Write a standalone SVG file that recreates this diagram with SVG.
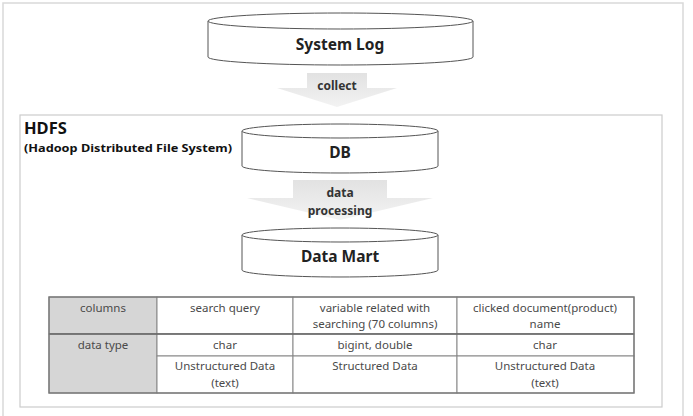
<svg xmlns="http://www.w3.org/2000/svg" width="693" height="416" viewBox="0 0 693 416">
  <style>
    .frame { fill: #ffffff; stroke: #d9d9d9; stroke-width: 1.5; }
    .hdfs { fill: #ffffff; stroke: #cccccc; stroke-width: 1.2; }
    .cyl { fill: #ffffff; stroke: #555555; stroke-width: 1; }
    .cyl-label { font-family: "Noto Sans", "Liberation Sans", sans-serif; font-weight: bold; font-size: 15.5px; fill: #222222; text-anchor: middle; }
    .arrow-label { font-family: "Noto Sans", "Liberation Sans", sans-serif; font-weight: bold; font-size: 12px; fill: #333333; text-anchor: middle; }
    .title { font-family: "Noto Sans", "Liberation Sans", sans-serif; font-weight: bold; fill: #111111; }
    .cell { stroke: #888888; stroke-width: 1; }
    .cell-text { font-family: "Noto Sans", "Liberation Sans", sans-serif; font-size: 11.5px; fill: #4a4a4a; text-anchor: middle; }
  </style>
  <defs>
    <linearGradient id="arrowFill" x1="0" y1="0" x2="0" y2="1">
      <stop offset="0" stop-color="#e2e2e2"/>
      <stop offset="1" stop-color="#f3f3f3"/>
    </linearGradient>
  </defs>

  <!-- outer frame -->
  <rect class="frame" x="3" y="3" width="680" height="416"/>

  <!-- HDFS container -->
  <g id="hdfs">
    <rect class="hdfs" x="20" y="115" width="642" height="292"/>
    <text class="title" x="24" y="134" font-size="16.5">HDFS</text>
    <text class="title" x="24" y="152" font-size="10.5" textLength="208" lengthAdjust="spacingAndGlyphs">(Hadoop Distributed File System)</text>
  </g>

  <!-- connectors: block arrows -->
  <g id="connectors">
    <g id="collect">
      <path d="M307,73 H367 V88 H397 L337,107 L277,88 H307 Z" fill="url(#arrowFill)"/>
      <text class="arrow-label" x="337" y="90">collect</text>
    </g>
    <g id="data-processing">
      <path d="M293,180 H387 V198 H433 L340,220 L247,198 H293 Z" fill="url(#arrowFill)"/>
      <text class="arrow-label" x="340" y="197">data</text>
      <text class="arrow-label" x="340" y="215">processing</text>
    </g>
  </g>

  <!-- System Log cylinder -->
  <g id="system-log">
    <path class="cyl" d="M208,21 V57 A132.5,8 0 0 0 473,57 V21"/>
    <ellipse class="cyl" cx="340.5" cy="21" rx="132.5" ry="8"/>
    <text class="cyl-label" x="340" y="50">System Log</text>
  </g>

  <!-- DB cylinder -->
  <g id="db">
    <path class="cyl" d="M242,131 V166 A98,7 0 0 0 438,166 V131"/>
    <ellipse class="cyl" cx="340" cy="131" rx="98" ry="7"/>
    <text class="cyl-label" x="340" y="158">DB</text>
  </g>

  <!-- Data Mart cylinder -->
  <g id="data-mart">
    <path class="cyl" d="M242,235 V270 A98,7 0 0 0 438,270 V235"/>
    <ellipse class="cyl" cx="340" cy="235" rx="98" ry="7"/>
    <text class="cyl-label" x="340" y="262">Data Mart</text>
  </g>

  <!-- column description table -->
  <g id="table">
    <rect x="49" y="297" width="108" height="37" fill="#d6d6d6" class="cell"/>
    <rect x="49" y="334" width="108" height="59" fill="#d6d6d6" class="cell"/>
    <rect x="157" y="297" width="136" height="37" fill="#ffffff" class="cell"/>
    <rect x="293" y="297" width="164" height="37" fill="#ffffff" class="cell"/>
    <rect x="457" y="297" width="177" height="37" fill="#ffffff" class="cell"/>
    <rect x="157" y="334" width="136" height="22" fill="#ffffff" class="cell"/>
    <rect x="293" y="334" width="164" height="22" fill="#ffffff" class="cell"/>
    <rect x="457" y="334" width="177" height="22" fill="#ffffff" class="cell"/>
    <rect x="157" y="356" width="136" height="37" fill="#ffffff" class="cell"/>
    <rect x="293" y="356" width="164" height="37" fill="#ffffff" class="cell"/>
    <rect x="457" y="356" width="177" height="37" fill="#ffffff" class="cell"/>
    <line x1="49" y1="334" x2="634" y2="334" stroke="#666666" stroke-width="1.3"/>
    <rect x="49" y="297" width="585" height="96" fill="none" stroke="#777777" stroke-width="1.3"/>

    <text class="cell-text" x="103" y="312">columns</text>
    <text class="cell-text" x="225" y="312">search query</text>
    <text class="cell-text" x="375" y="312">variable related with</text>
    <text class="cell-text" x="375" y="328">searching (70 columns)</text>
    <text class="cell-text" x="545" y="312">clicked document(product)</text>
    <text class="cell-text" x="545" y="328">name</text>

    <text class="cell-text" x="103" y="349">data type</text>
    <text class="cell-text" x="225" y="349">char</text>
    <text class="cell-text" x="375" y="349">bigint, double</text>
    <text class="cell-text" x="545" y="349">char</text>

    <text class="cell-text" x="225" y="370">Unstructured Data</text>
    <text class="cell-text" x="225" y="387" font-size="10.5px">(text)</text>
    <text class="cell-text" x="375" y="370">Structured Data</text>
    <text class="cell-text" x="545" y="370">Unstructured Data</text>
    <text class="cell-text" x="545" y="387" font-size="10.5px">(text)</text>
  </g>
</svg>
